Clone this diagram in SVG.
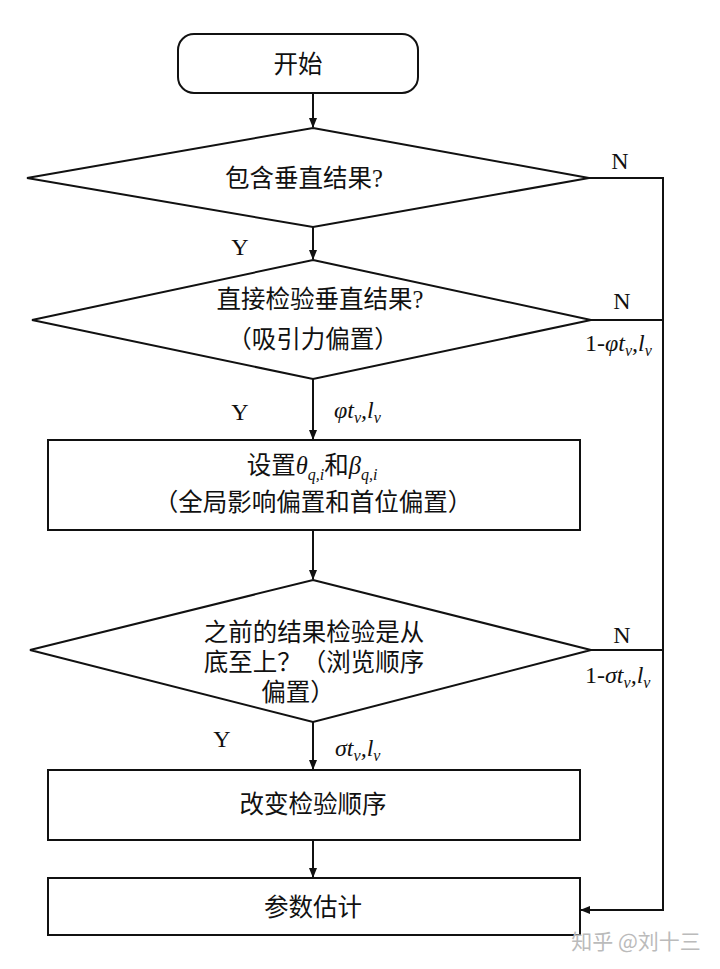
<svg xmlns="http://www.w3.org/2000/svg" width="720" height="969" viewBox="0 0 720 969">
<defs>
<marker id="arr" markerWidth="10" markerHeight="10" refX="9" refY="5" orient="auto" markerUnits="userSpaceOnUse">
<path d="M0,1 L10,5 L0,9 Z" fill="#111"/>
</marker>
<style>
.s{fill:#fff;stroke:#111;stroke-width:2}
.c{fill:none;stroke:#111;stroke-width:2}
.t{font-family:"Liberation Serif","Noto Sans CJK SC",serif;font-size:24.5px;fill:#111;text-anchor:middle}
.l{font-family:"Liberation Serif",serif;font-size:24px;fill:#111}
.m{font-family:"Liberation Serif",serif;font-size:24px;font-style:italic;fill:#111}
.sub{font-size:16px}
</style>
</defs>
<rect width="720" height="969" fill="#fff"/>
<g id="connectors">
<line class="c" x1="313" y1="93" x2="313" y2="127" marker-end="url(#arr)"/>
<line class="c" x1="313" y1="227" x2="313" y2="259" marker-end="url(#arr)"/>
<line class="c" x1="313" y1="379" x2="313" y2="439" marker-end="url(#arr)"/>
<line class="c" x1="313" y1="530" x2="313" y2="579" marker-end="url(#arr)"/>
<line class="c" x1="313" y1="722" x2="313" y2="769" marker-end="url(#arr)"/>
<line class="c" x1="313" y1="840" x2="313" y2="877" marker-end="url(#arr)"/>
<polyline class="c" points="589,178 663,178 663,910 581,910" marker-end="url(#arr)"/>
<line class="c" x1="591" y1="320" x2="663" y2="320"/>
<line class="c" x1="591" y1="650" x2="663" y2="650"/>
<text class="l" x="240" y="255" text-anchor="middle">Y</text>
<text class="l" x="620" y="169" text-anchor="middle">N</text>
<text class="l" x="622" y="309" text-anchor="middle">N</text>
<text class="l" x="240" y="420" text-anchor="middle">Y</text>
<text class="l" x="622" y="643" text-anchor="middle">N</text>
<text class="l" x="222" y="747" text-anchor="middle">Y</text>
<text class="m" x="585" y="351"><tspan font-style="normal">1-</tspan>φ<tspan>t</tspan><tspan class="sub" dy="5">v</tspan><tspan dy="-5">,</tspan><tspan>l</tspan><tspan class="sub" dy="5">v</tspan></text>
<text class="m" x="585" y="683"><tspan font-style="normal">1-</tspan>σ<tspan>t</tspan><tspan class="sub" dy="5">v</tspan><tspan dy="-5">,</tspan><tspan>l</tspan><tspan class="sub" dy="5">v</tspan></text>
<text class="m" x="334" y="418">φt<tspan class="sub" dy="5">v</tspan><tspan dy="-5">,l</tspan><tspan class="sub" dy="5">v</tspan></text>
<text class="m" x="335" y="756">σt<tspan class="sub" dy="5">v</tspan><tspan dy="-5">,l</tspan><tspan class="sub" dy="5">v</tspan></text>
</g>
<g id="start">
<rect class="s" x="178" y="34" width="240" height="59" rx="16"/>
<text class="t" x="298" y="73">开始</text>
</g>
<g id="d1">
<polygon class="s" points="313,128 589,178 313,227 27,178"/>
<text class="t" x="304" y="187">包含垂直结果?</text>
</g>
<g id="d2">
<polygon class="s" points="313,260 591,320 313,379 32,320"/>
<text class="t" x="320" y="308">直接检验垂直结果?</text>
<text class="t" x="313" y="348">（吸引力偏置）</text>
</g>
<g id="b1">
<rect class="s" x="48" y="440" width="532" height="90"/>
<text class="t" x="312" y="474" text-anchor="middle">设置<tspan font-style="italic">θ</tspan><tspan class="sub" font-style="italic" dy="6">q,i</tspan><tspan dy="-6">和</tspan><tspan font-style="italic">β</tspan><tspan class="sub" font-style="italic" dy="6">q,i</tspan></text>
<text class="t" x="313" y="511">（全局影响偏置和首位偏置）</text>
</g>
<g id="d3">
<polygon class="s" points="313,580 591,650 313,722 30,650"/>
<text class="t" x="314" y="641">之前的结果检验是从</text>
<text class="t" x="314" y="671">底至上？（浏览顺序</text>
<text class="t" x="298" y="701">偏置）</text>
</g>
<g id="b2">
<rect class="s" x="48" y="770" width="532" height="70"/>
<text class="t" x="313" y="813">改变检验顺序</text>
</g>
<g id="b3">
<rect class="s" x="48" y="878" width="532" height="57"/>
<text class="t" x="313" y="916">参数估计</text>
</g>
<text x="636" y="949" font-family="Noto Sans CJK SC,sans-serif" font-size="21" fill="#bbb" text-anchor="middle">知乎 @刘十三</text>
</svg>
